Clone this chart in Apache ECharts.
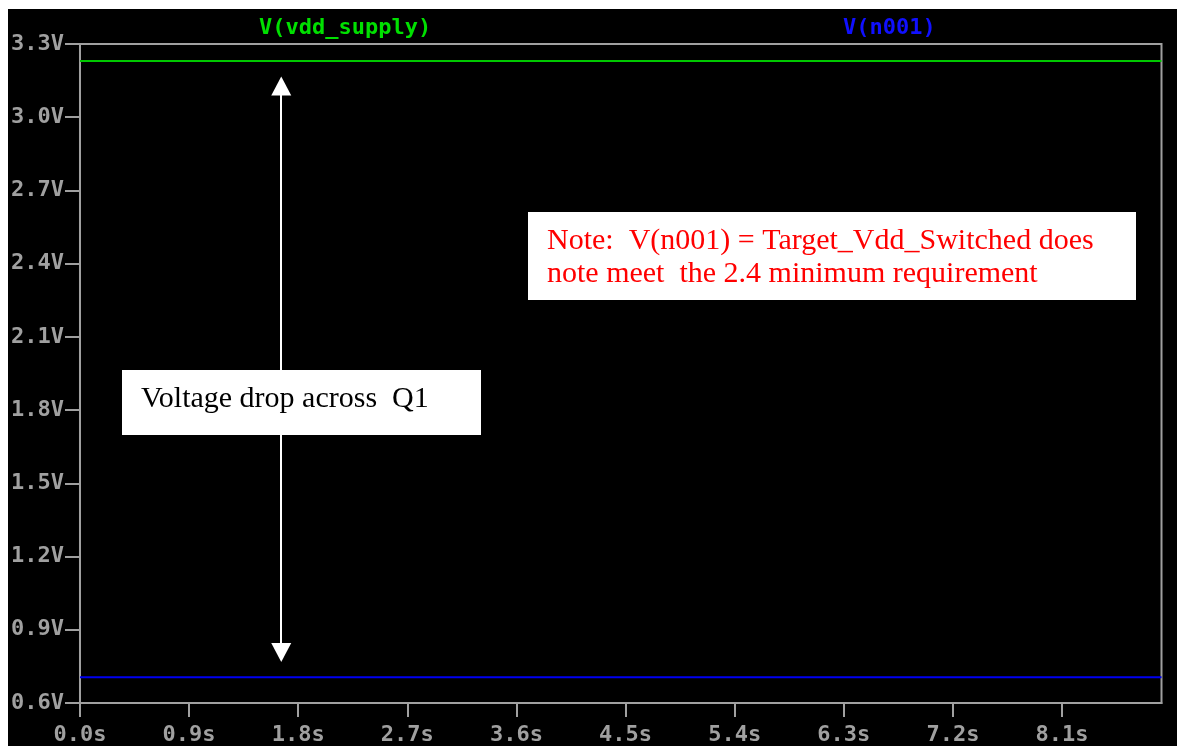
<!DOCTYPE html>
<html>
<head>
<meta charset="utf-8">
<script src="https://cdn.jsdelivr.net/npm/echarts@6/dist/echarts.min.js"></script>
<style>
  html, body { margin: 0; padding: 0; background: #ffffff; }
  #chart { position: absolute; left: 8px; top: 9px; width: 1169px; height: 737px; background: #000000; }
</style>
</head>
<body>
<div id="chart"></div>
<script>
// ---- data ----
const seriesNames = ['V(vdd_supply)', 'V(n001)'];
const times = [0, 8.92];
const vddSupply = [3.23, 3.23];
const vN001 = [0.705, 0.705];
const xTicks = [0, 0.9, 1.8, 2.7, 3.6, 4.5, 5.4, 6.3, 7.2, 8.1];
const yTicks = [0.6, 0.9, 1.2, 1.5, 1.8, 2.1, 2.4, 2.7, 3.0, 3.3];
const arrowTime = 1.66;
const arrowLow = 0.807;
const arrowHigh = 3.128;
const noteLines = ['Note:  V(n001) = Target_Vdd_Switched does', 'note meet  the 2.4 minimum requirement'];
const dropLabel = 'Voltage drop across  Q1';

const monoFont = "'DejaVu Sans Mono', monospace";
const serifFont = "'Liberation Serif', 'Times New Roman', serif";
const gray = '#a0a0a0';

const chart = echarts.init(document.getElementById('chart'), null, { renderer: 'canvas' });

function pairs(xs, ys) { return xs.map((x, i) => [x, ys[i]]); }

chart.setOption({
  backgroundColor: '#000000',
  animation: false,
  title: [
    { text: seriesNames[0], left: 251, top: 8, padding: 0,
      textStyle: { color: '#00e000', fontFamily: monoFont, fontWeight: 'bold', fontSize: 22 } },
    { text: seriesNames[1], left: 835, top: 8, padding: 0,
      textStyle: { color: '#1010ff', fontFamily: monoFont, fontWeight: 'bold', fontSize: 22 } }
  ],
  grid: {
    left: 69, top: 35, right: 15.5, bottom: 43,
    show: true, borderColor: gray, borderWidth: 2, backgroundColor: '#000000'
  },
  xAxis: {
    type: 'value', min: 0, max: times[times.length - 1], interval: 0.9,
    axisLine: { show: true, lineStyle: { color: gray, width: 2 } },
    axisTick: { show: true, length: 14, lineStyle: { color: gray, width: 2 }, customValues: xTicks },
    axisLabel: {
      color: gray, fontFamily: monoFont, fontWeight: 'bold', fontSize: 22, margin: 21,
      customValues: xTicks, formatter: v => v.toFixed(1) + 's'
    },
    splitLine: { show: false }
  },
  yAxis: {
    type: 'value', min: 0.6, max: 3.3, interval: 0.3,
    axisLine: { show: true, lineStyle: { color: gray, width: 2 } },
    axisTick: { show: true, length: 15, lineStyle: { color: gray, width: 2 }, customValues: yTicks },
    axisLabel: {
      color: gray, fontFamily: monoFont, fontWeight: 'bold', fontSize: 22, margin: 16,
      customValues: yTicks, formatter: v => v.toFixed(1) + 'V'
    },
    splitLine: { show: false }
  },
  series: [
    {
      name: seriesNames[0], type: 'line', data: pairs(times, vddSupply),
      showSymbol: false, symbol: 'none',
      lineStyle: { color: '#00c800', width: 2 },
      markLine: {
        silent: true, symbol: ['triangle', 'triangle'], symbolSize: [20, 19],
        label: { show: false },
        lineStyle: { color: '#ffffff', width: 2, type: 'solid' },
        data: [[{ coord: [arrowTime, arrowLow] }, { coord: [arrowTime, arrowHigh] }]]
      }
    },
    {
      name: seriesNames[1], type: 'line', data: pairs(times, vN001),
      showSymbol: false, symbol: 'none',
      lineStyle: { color: '#0000f0', width: 2 }
    }
  ],
  graphic: [
    { type: 'rect', z: 100, left: 520, top: 203, shape: { width: 608, height: 88 }, style: { fill: '#ffffff' } },
    { type: 'text', z: 101, left: 539, top: 217, style: { text: noteLines[0], fill: '#ff0000', font: '30px ' + serifFont } },
    { type: 'text', z: 101, left: 539, top: 250, style: { text: noteLines[1], fill: '#ff0000', font: '30px ' + serifFont } },
    { type: 'rect', z: 100, left: 114, top: 361, shape: { width: 359, height: 65 }, style: { fill: '#ffffff' } },
    { type: 'text', z: 101, left: 133, top: 375, style: { text: dropLabel, fill: '#000000', font: '30px ' + serifFont } }
  ]
});
</script>
</body>
</html>
